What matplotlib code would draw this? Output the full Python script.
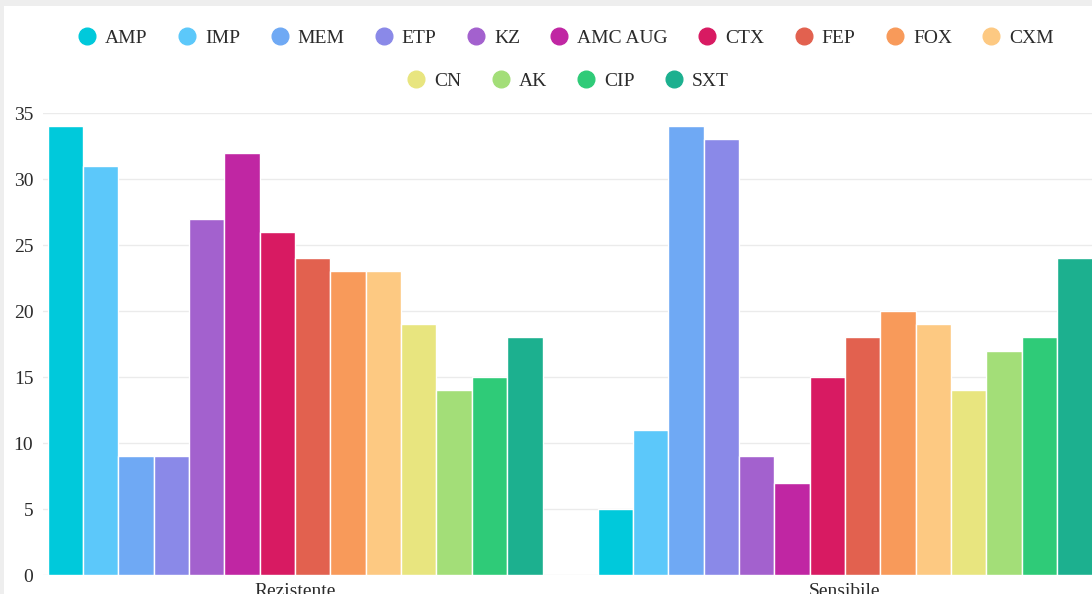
import matplotlib.pyplot as plt
from matplotlib.lines import Line2D
from matplotlib.patches import Rectangle
import numpy as np

# antibiotice si numarul de tulpini pe categorie
antibiotice = ['AMP', 'IMP', 'MEM', 'ETP', 'KZ', 'AMC AUG', 'CTX', 'FEP',
               'FOX', 'CXM', 'CN', 'AK', 'CIP', 'SXT']
categorii = ['Rezistente', 'Sensibile']
rezistente = [34, 31, 9, 9, 27, 32, 26, 24, 23, 23, 19, 14, 15, 18]
sensibile = [5, 11, 34, 33, 9, 7, 15, 18, 20, 19, 14, 17, 18, 24]

culori = ['#00c9db', '#5cc8fa', '#6fa9f4', '#8a89e8', '#a361ce', '#c026a3',
          '#d81a62', '#e2614f', '#f89a5a', '#fdc982', '#e8e57f', '#a3de78',
          '#2fcb78', '#1cb08f']

plt.rcParams['font.family'] = ['Liberation Serif', 'DejaVu Serif']
W, H = 1092, 594
fig = plt.figure(figsize=(W / 100, H / 100), dpi=100, facecolor='#eeeeee')
# panoul alb peste fundalul gri
fig.patches.append(Rectangle((4 / W, 0), 1, 1 - 6 / H, transform=fig.transFigure,
                             facecolor='white', edgecolor='none', zorder=-1))

# zona graficului in pixeli
x_st, x_dr, y_jos, y_sus = 43, 1092, 575, 113
ax = fig.add_axes([x_st / W, (H - y_jos) / H, (x_dr - x_st) / W, (y_jos - y_sus) / H])
ax.set_facecolor('none')

# fiecare categorie ocupa 550 px, centrul primei categorii la 295 px
cat_px, centru0 = 550, 295
ax.set_xlim((x_st - centru0) / cat_px, (x_dr - centru0) / cat_px)
ax.set_ylim(0, 35)

n = len(antibiotice)
latime = 0.9 / n
x = np.arange(len(categorii))
for i, (nume, c) in enumerate(zip(antibiotice, culori)):
    pos = x - 0.45 + latime * (i + 0.5)
    ax.bar(pos, [rezistente[i], sensibile[i]], width=latime, color=c,
           edgecolor='white', linewidth=1.0, zorder=2)

ax.set_xticks(x)
ax.set_xticklabels(categorii)
ax.set_yticks(range(0, 36, 5))
ax.grid(axis='y', color='#ebebeb', linewidth=1, zorder=0)
ax.tick_params(axis='both', length=0, labelsize=14, colors='#2b2b2b')
ax.tick_params(axis='y', pad=7)
ax.tick_params(axis='x', pad=6)
for s in ax.spines.values():
    s.set_visible(False)

# legenda pe doua randuri centrate
handles = [Line2D([], [], marker='o', linestyle='', markersize=12,
                  markerfacecolor=c, markeredgecolor=c) for c in culori]
opt = dict(loc='center', frameon=False, fontsize=14, handlelength=0.95,
           handletextpad=0.45, columnspacing=1.55, labelcolor='#2b2b2b')
fig.legend(handles[:10], antibiotice[:10], ncol=10,
           bbox_to_anchor=(566 / W, 1 - 38 / H), **opt)
fig.legend(handles[10:], antibiotice[10:], ncol=4,
           bbox_to_anchor=(568 / W, 1 - 81 / H), **opt)

fig.savefig('out.png', dpi=100, facecolor=fig.get_facecolor())
